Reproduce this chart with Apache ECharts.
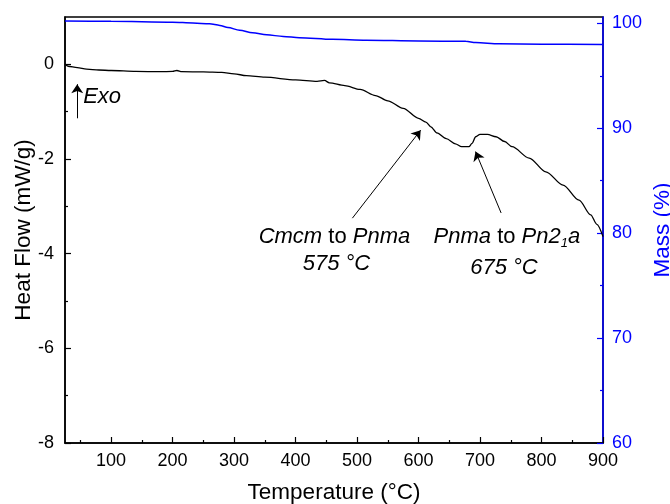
<!DOCTYPE html>
<html>
<head>
<meta charset="utf-8">
<script src="https://cdn.jsdelivr.net/npm/echarts@6/dist/echarts.min.js"></script>
<style>
  html, body { margin: 0; padding: 0; background: #fff; }
  #chart { width: 670px; height: 504px; }
</style>
</head>
<body>
<div id="chart"></div>
<script>
// DSC heat flow (black)
const hfTemps = [25, 30, 45, 60, 80, 100, 140, 180, 200, 207, 215, 250, 280, 300, 320, 350, 400, 435, 447, 455,
  480, 505, 530, 550, 575, 600, 612, 620, 630, 645, 660, 670, 682, 687, 693, 700, 712, 726, 740, 752,
  780, 807, 835, 861, 880, 890, 900]
const heatFlow = [0.00, -0.04, -0.07, -0.10, -0.12, -0.13, -0.15, -0.155, -0.15, -0.13, -0.155, -0.16, -0.17, -0.20, -0.24, -0.27, -0.33, -0.36, -0.34, -0.39,
  -0.45, -0.53, -0.66, -0.77, -0.93, -1.14, -1.22, -1.32, -1.45, -1.57, -1.68, -1.74, -1.74, -1.67, -1.53, -1.48, -1.48, -1.53, -1.63, -1.74,
  -1.98, -2.27, -2.55, -2.87, -3.18, -3.38, -3.64]

// TGA mass (blue)
const massTemps = [25, 100, 200, 233, 260, 277, 290, 309, 330, 353, 380, 406, 460, 515, 600, 677, 693, 731, 800, 900]
const mass = [100.22, 100.19, 100.1, 100.03, 99.95, 99.8, 99.6, 99.33, 99.1, 98.9, 98.75, 98.63, 98.47, 98.38, 98.32, 98.28, 98.16, 98.04, 98.0, 97.98]

const xTicks = [100, 200, 300, 400, 500, 600, 700, 800, 900]
const xMinorTicks = [50, 150, 250, 350, 450, 550, 650, 750, 850]
const hfTicks = [-8, -6, -4, -2, 0]
const hfMinorTicks = [-7, -5, -3, -1]
const massTicks = [60, 70, 80, 90, 100]
const massMinorTicks = [65, 75, 85, 95]

const font = "'Liberation Sans', Arial, sans-serif"
const blue = '#0000ff'

// arrows: [tail, head] in data coords (temperature, heat flow)
const arrows = [
  [[44.9, -1.14], [44.9, -0.42]],
  [[492.4, -3.25], [603.5, -1.39]],
  [[734.3, -3.14], [692.7, -1.844]]
]

const rich = {
  i: { fontStyle: 'italic', fontSize: 22, fontFamily: font, color: '#000' },
  n: { fontSize: 22, fontFamily: font, color: '#000' },
  sub: { fontStyle: 'italic', fontSize: 13, fontFamily: font, color: '#000', padding: [12, 0, 0, 0] }
}
const notes = [
  { coord: [54.6, -0.686], text: '{i|Exo}', align: 'left' },
  { coord: [463.2, -3.65], text: '{i|Cmcm}{n| to }{i|Pnma}', align: 'center' },
  { coord: [466.5, -4.22], text: '{i|575 °C}', align: 'center' },
  { coord: [743.7, -3.65], text: '{i|Pnma}{n| to }{i|Pn2}{sub|1}{i|a}', align: 'center' },
  { coord: [738.9, -4.30], text: '{i|675 °C}', align: 'center' }
]

const zip = (xs, ys) => xs.map((x, i) => [x, ys[i]])

const baseX = {
  type: 'value', min: 25, max: 900, position: 'bottom', splitLine: { show: false }
}

const chart = echarts.init(document.getElementById('chart'))
chart.setOption({
  animation: false,
  backgroundColor: '#fff',
  textStyle: { fontFamily: font },
  grid: {
    left: 65, right: 67, top: 17, bottom: 61, containLabel: false, outerBoundsMode: 'none',
    show: true, borderColor: '#000', borderWidth: 1.5
  },
  xAxis: [
    Object.assign({}, baseX, {
      name: 'Temperature (°C)', nameLocation: 'middle', nameGap: 38,
      nameTextStyle: { fontSize: 22.5, color: '#000', fontFamily: font },
      axisLine: { onZero: false, lineStyle: { color: '#000', width: 1.5 } },
      axisTick: { inside: true, length: 6, customValues: xTicks, lineStyle: { color: '#000', width: 1.2 } },
      axisLabel: { customValues: xTicks, fontSize: 18, color: '#000', margin: 9, fontFamily: font }
    }),
    Object.assign({}, baseX, {
      axisLine: { show: false, onZero: false },
      axisTick: { inside: true, length: 3, customValues: xMinorTicks, lineStyle: { color: '#000', width: 1.2 } },
      axisLabel: { show: false }
    })
  ],
  yAxis: [
    {
      type: 'value', min: -8, max: 1, position: 'left', splitLine: { show: false },
      name: 'Heat Flow (mW/g)', nameLocation: 'middle', nameGap: 30, nameRotate: 90, nameMoveOverlap: false,
      nameTextStyle: { fontSize: 22.5, color: '#000', fontFamily: font },
      axisLine: { onZero: false, lineStyle: { color: '#000', width: 1.5 } },
      axisTick: { inside: true, length: 6, customValues: hfTicks, lineStyle: { color: '#000', width: 1.2 } },
      axisLabel: { customValues: hfTicks, fontSize: 18, color: '#000', margin: 11, fontFamily: font }
    },
    {
      type: 'value', min: -8, max: 1, position: 'left', splitLine: { show: false },
      axisLine: { show: false, onZero: false },
      axisTick: { inside: true, length: 3, customValues: hfMinorTicks, lineStyle: { color: '#000', width: 1.2 } },
      axisLabel: { show: false }
    },
    {
      type: 'value', min: 60, max: 100.6, position: 'right', splitLine: { show: false },
      name: 'Mass (%)', nameLocation: 'middle', nameGap: 48, nameRotate: 90, nameMoveOverlap: false,
      nameTextStyle: { fontSize: 22.5, color: blue, fontFamily: font },
      axisLine: { show: true, onZero: false, lineStyle: { color: blue, width: 1.5 } },
      axisTick: { show: true, inside: true, length: 6, customValues: massTicks, lineStyle: { color: blue, width: 1.2 } },
      axisLabel: { customValues: massTicks, fontSize: 18, color: blue, margin: 9, fontFamily: font }
    },
    {
      type: 'value', min: 60, max: 100.6, position: 'right', splitLine: { show: false },
      axisLine: { show: false, onZero: false },
      axisTick: { show: true, inside: true, length: 3, customValues: massMinorTicks, lineStyle: { color: blue, width: 1.2 } },
      axisLabel: { show: false }
    }
  ],
  series: [
    {
      type: 'line', name: 'Heat flow', xAxisIndex: 0, yAxisIndex: 0,
      data: zip(hfTemps, heatFlow), showSymbol: false, smooth: 0.3, smoothMonotone: 'x',
      lineStyle: { color: '#000', width: 1.3 }, itemStyle: { color: '#000' },
      markLine: {
        silent: true, symbol: ['none', 'arrow'], symbolSize: 9,
        lineStyle: { color: '#000', width: 1, type: 'solid' },
        itemStyle: { color: '#000' }, label: { show: false },
        data: arrows.map(a => [{ coord: a[0] }, { coord: a[1] }])
      },
      markPoint: {
        silent: true, symbol: 'circle', symbolSize: 0,
        data: notes.map(n => ({
          coord: n.coord,
          label: { show: true, position: 'inside', align: n.align, verticalAlign: 'middle', formatter: n.text, rich: rich }
        }))
      }
    },
    {
      type: 'line', name: 'Mass', xAxisIndex: 0, yAxisIndex: 2,
      data: zip(massTemps, mass), showSymbol: false, smooth: 0.3, smoothMonotone: 'x',
      lineStyle: { color: blue, width: 1.5 }, itemStyle: { color: blue }
    }
  ]
})
</script>
</body>
</html>
